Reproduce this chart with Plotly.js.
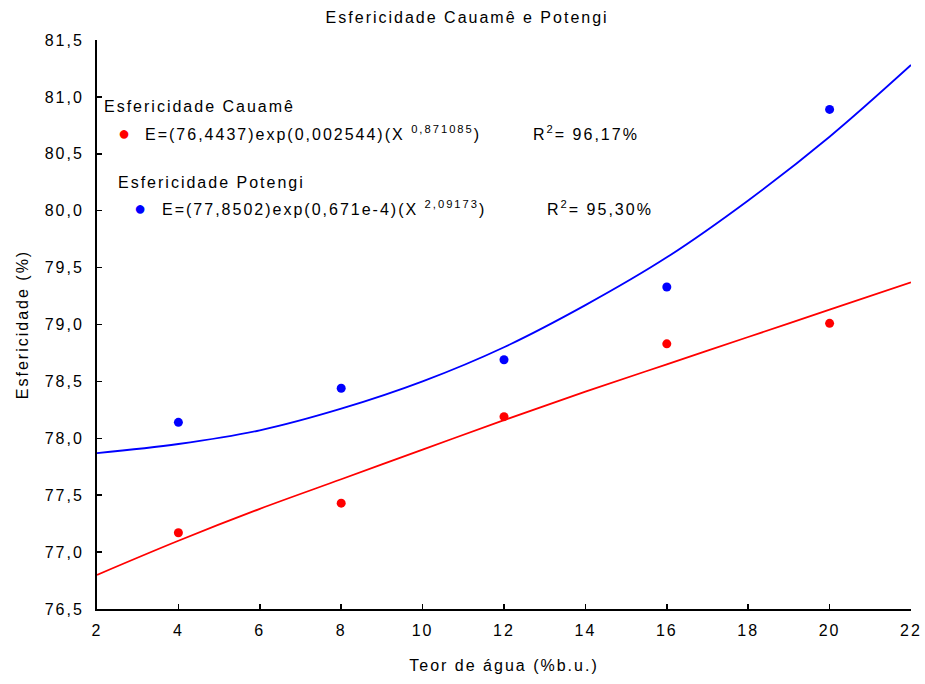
<!DOCTYPE html>
<html>
<head>
<meta charset="utf-8">
<script src="https://cdn.plot.ly/plotly-3.0.1.min.js"></script>
<style>
html,body{margin:0;padding:0;background:#fff;}
#chart{width:925px;height:684px;}
svg text, svg tspan{letter-spacing:2px;}
</style>
</head>
<body>
<div id="chart"></div>
<script>
// Observed data (Teor de água, %b.u.)
const teorAgua = [4, 8, 12, 16, 20];
const esfCauame = [77.17, 77.43, 78.19, 78.83, 79.01];
const esfPotengi = [78.14, 78.44, 78.69, 79.33, 80.89];

// Fitted curves
const curveX = [2, 4, 6, 8, 10, 12, 14, 16, 18, 20, 22];
const curveCauame = [76.80, 77.10, 77.38, 77.64, 77.90, 78.16, 78.41, 78.65, 78.89, 79.13, 79.37];
const curvePotengi = [77.87, 77.95, 78.07, 78.26, 78.50, 78.80, 79.17, 79.59, 80.09, 80.65, 81.28];

const xTicks = [2, 4, 6, 8, 10, 12, 14, 16, 18, 20, 22];
const yTicks = [76.5, 77.0, 77.5, 78.0, 78.5, 79.0, 79.5, 80.0, 80.5, 81.0, 81.5];

const RED = '#ff0000', BLUE = '#0000ff';
const FONT = 'Liberation Sans, Arial, Helvetica, sans-serif';

const traces = [
  {x: curveX, y: curveCauame, mode: 'lines', line: {color: RED, width: 1.8, shape: 'spline'}, showlegend: false, hoverinfo: 'skip'},
  {x: curveX, y: curvePotengi, mode: 'lines', line: {color: BLUE, width: 1.8, shape: 'spline'}, showlegend: false, hoverinfo: 'skip'},
  {x: teorAgua, y: esfCauame, mode: 'markers', marker: {color: RED, size: 9}, showlegend: false},
  {x: teorAgua, y: esfPotengi, mode: 'markers', marker: {color: BLUE, size: 9}, showlegend: false}
];

const ann = (x, y, text, color, size) => ({
  x: x, y: y, xref: 'x', yref: 'y', xanchor: 'left', yanchor: 'middle',
  text: text, showarrow: false, font: {family: FONT, size: size || 16, color: color || '#000'}
});

const layout = {
  width: 925, height: 684,
  margin: {l: 97, r: 14, t: 40, b: 75},
  paper_bgcolor: '#fff', plot_bgcolor: '#fff',
  separators: ', ',
  font: {family: FONT, size: 16, color: '#000'},
  title: {text: 'Esfericidade Cauamê e Potengi', x: 0.505, xanchor: 'center', y: 0.974, yanchor: 'middle',
          font: {family: FONT, size: 16, color: '#000'}},
  xaxis: {
    range: [2, 22], tickvals: xTicks, ticktext: xTicks.map(String),
    showline: true, linecolor: '#000', linewidth: 2, mirror: false,
    ticks: 'inside', ticklen: 5, tickwidth: 1.5, tickcolor: '#000',
    showgrid: false, zeroline: false, ticklabelstandoff: 6,
    tickfont: {family: FONT, size: 16, color: '#000'},
    title: {text: 'Teor de água (%b.u.)', standoff: 22, font: {family: FONT, size: 16, color: '#000'}}
  },
  yaxis: {
    range: [76.5, 81.5], tickvals: yTicks, tickformat: '.1f',
    showline: true, linecolor: '#000', linewidth: 2, mirror: false,
    ticks: 'inside', ticklen: 5, tickwidth: 1.5, tickcolor: '#000',
    showgrid: false, zeroline: false, ticklabelstandoff: 8,
    tickfont: {family: FONT, size: 16, color: '#000'},
    title: {text: 'Esfericidade (%)', standoff: 12, font: {family: FONT, size: 16, color: '#000'}}
  },
  annotations: [
    ann(2.12, 80.92, 'Esfericidade Cauamê'),
    ann(2.46, 80.683, '●', RED, 20),
    ann(3.13, 80.683, 'E=(76,4437)exp(0,002544)(X <sup>0,871085</sup>)'),
    ann(12.66, 80.683, 'R<sup>2</sup>= 96,17%'),
    ann(2.47, 80.252, 'Esfericidade Potengi'),
    ann(2.86, 80.024, '●', BLUE, 20),
    ann(3.548, 80.024, 'E=(77,8502)exp(0,671e-4)(X <sup>2,09173</sup>)'),
    ann(13.007, 80.024, 'R<sup>2</sup>= 95,30%')
  ]
};

Plotly.newPlot('chart', traces, layout, {displayModeBar: false, staticPlot: true});
</script>
</body>
</html>
